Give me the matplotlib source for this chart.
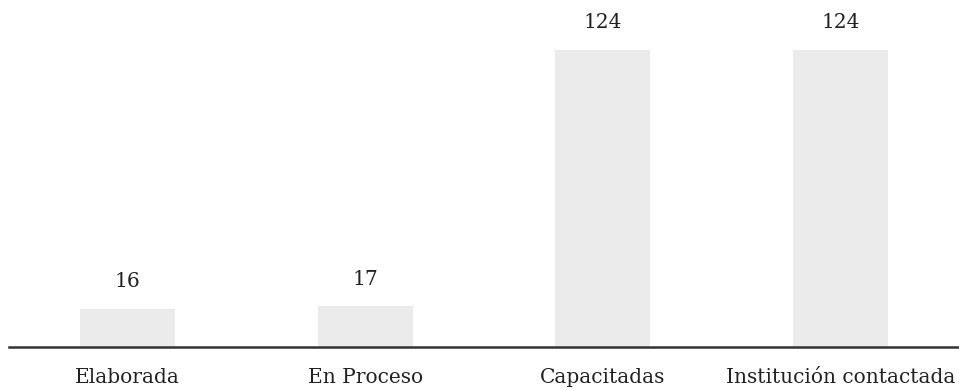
import matplotlib
matplotlib.use('Agg')
import matplotlib.pyplot as plt

# Datos del gráfico
categorias = ['Elaborada', 'En Proceso', 'Capacitadas', 'Institución contactada']
valores = [16, 17, 124, 124]

plt.rcParams['font.family'] = ['DejaVu Serif']

fig = plt.figure(figsize=(9.59, 3.89), dpi=100)
ax = fig.add_axes([9 / 959, 42 / 389, 950 / 959, 337 / 389])

x = range(len(categorias))
barras = ax.bar(x, valores, width=0.4, color='#ebebeb')

ax.set_xlim(-0.5, 3.5)
ax.set_ylim(0, 140.7)

# Etiquetas de valor sobre las barras
for xi, v in zip(x, valores):
    ax.annotate(str(v), (xi, v), xytext=(0, 19.5), textcoords='offset points',
                ha='center', va='center', fontsize=14.5, color='#222222')

ax.set_xticks(list(x))
ax.set_xticklabels(categorias, fontsize=14.5, color='#222222')
ax.tick_params(axis='x', length=0, pad=15)
ax.set_yticks([])

for lado in ['top', 'right', 'left']:
    ax.spines[lado].set_visible(False)
ax.spines['bottom'].set_color('#333333')
ax.spines['bottom'].set_linewidth(1.8)

fig.savefig('out.png', dpi=100)
